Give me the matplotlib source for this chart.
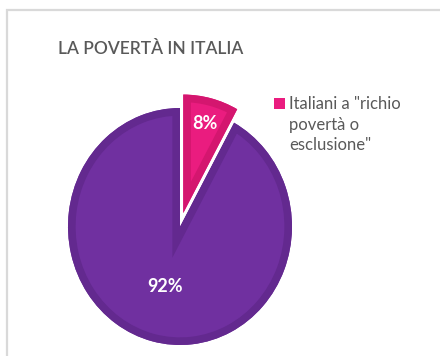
import matplotlib
matplotlib.use("Agg")
import matplotlib.pyplot as plt
from matplotlib.patches import Wedge, Rectangle
import numpy as np

# Data
categories = ['Italiani a "richio\npovertà o\nesclusione"', "Altri"]
values = [8, 92]
title = "LA POVERTÀ IN ITALIA"

# Styling
face_colors = ["#EA1C7F", "#7030A0"]
edge_colors = ["#D4166F", "#63298F"]
explode = [0.117, 0.0]
label_dist = [0.78, 0.52]
text_gray = "#595959"

W, H = 440, 356
fig = plt.figure(figsize=(W / 100, H / 100), dpi=100)
fig.patch.set_facecolor("white")

def fx(px):
    return px / W

def fy(py):
    return 1 - py / H

# Chart border (light gray frame running off the right/bottom edges)
fig.patches.append(Rectangle((fx(7), fy(400)), fx(500), 390 / H,
                             transform=fig.transFigure, fill=False,
                             edgecolor="#D9D9D9", linewidth=1.6))

# Pie axes: unit circle maps to an ellipse centred at (180, 226.5) px
cx, cy, rx, ry = 180, 226.5, 112, 118.5
lim = 1.3
ax = fig.add_axes([fx(cx - rx * lim), fy(cy + ry * lim),
                   2 * rx * lim / W, 2 * ry * lim / H])
wedges, _ = ax.pie(values, explode=explode, startangle=90, counterclock=False,
                   colors=face_colors, wedgeprops=dict(linewidth=0))
ax.set_aspect("auto")
ax.set_xlim(-lim, lim)
ax.set_ylim(-lim, lim)
ax.axis("off")

for i, w in enumerate(wedges):
    # white outline for the exploded slice
    if explode[i] > 0:
        w.set_zorder(5)
        outline = Wedge(w.center, w.r, w.theta1, w.theta2, facecolor="none",
                        edgecolor="white", linewidth=4.5, zorder=4)
        ax.add_patch(outline)
    else:
        w.set_zorder(2)
    # darker inner rim
    rim = Wedge(w.center, w.r, w.theta1, w.theta2, facecolor="none",
                edgecolor=edge_colors[i], linewidth=11, zorder=w.get_zorder() + 0.5)
    ax.add_patch(rim)
    rim.set_clip_path(w)
    # percentage label
    mid = np.deg2rad((w.theta1 + w.theta2) / 2)
    x = w.center[0] + label_dist[i] * np.cos(mid)
    y = w.center[1] + label_dist[i] * np.sin(mid)
    ax.text(x, y, f"{values[i]}%", ha="center", va="center", color="white",
            fontsize=13, fontweight="bold", family="Lato", zorder=10)

# Title
fig.text(fx(58), fy(49), title, ha="left", va="center", color=text_gray,
         fontsize=12.5, family="Lato", fontweight="semibold")

# Legend entry (pink series only)
fig.patches.append(Rectangle((fx(274), fy(109)), 11 / W, 11 / H,
                             transform=fig.transFigure,
                             facecolor=face_colors[0], edgecolor="none"))
fig.text(fx(289), fy(96), categories[0], ha="left", va="top", color=text_gray,
         fontsize=12, family="Lato", linespacing=1.35)

fig.savefig("out.png", dpi=100, facecolor="white")
